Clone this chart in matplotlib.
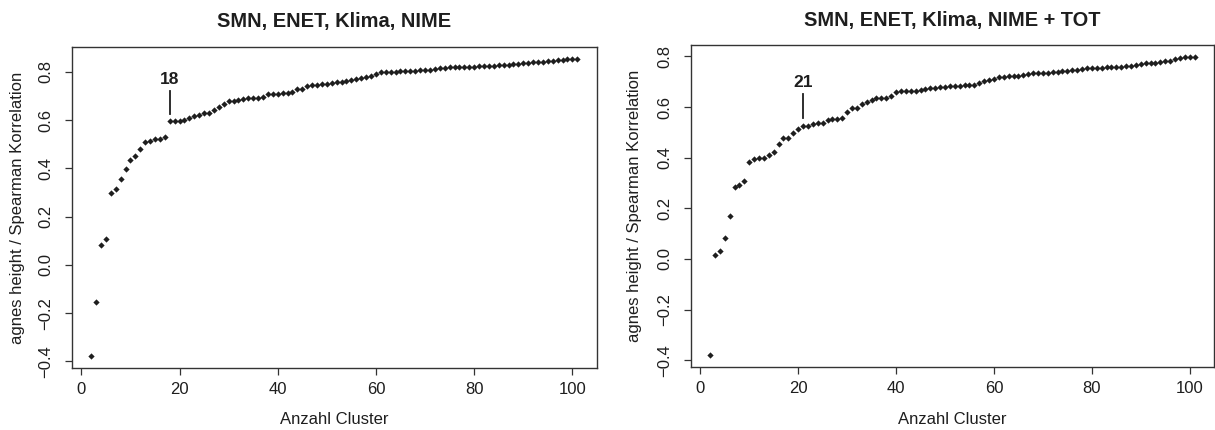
import matplotlib
matplotlib.use("Agg")
import matplotlib.pyplot as plt
import numpy as np

plt.rcParams['font.family'] = ['Liberation Sans', 'DejaVu Sans']

clusters = list(range(2, 102))

titles = ["SMN, ENET, Klima, NIME", "SMN, ENET, Klima, NIME + TOT"]
xlabel = "Anzahl Cluster"
ylabel = "agnes height / Spearman Korrelation"
highlight = [18, 21]

corr_left = [
    -0.379, -0.153, 0.083, 0.107, 0.299, 0.313, 0.357, 0.399, 0.434, 0.451,   # 2-11
    0.479, 0.509, 0.513, 0.523, 0.523, 0.531, 0.596, 0.597, 0.597, 0.600,     # 12-21
    0.608, 0.618, 0.621, 0.629, 0.628, 0.641, 0.656, 0.667, 0.680, 0.681,     # 22-31
    0.685, 0.686, 0.690, 0.690, 0.692, 0.696, 0.707, 0.709, 0.710, 0.711,     # 32-41
    0.712, 0.715, 0.728, 0.730, 0.743, 0.745, 0.746, 0.748, 0.750, 0.753,     # 42-51
    0.757, 0.759, 0.763, 0.768, 0.771, 0.774, 0.777, 0.785, 0.792, 0.799,     # 52-61
    0.800, 0.801, 0.801, 0.802, 0.803, 0.804, 0.805, 0.806, 0.807, 0.809,     # 62-71
    0.811, 0.817, 0.818, 0.819, 0.820, 0.821, 0.821, 0.822, 0.822, 0.823,     # 72-81
    0.824, 0.825, 0.826, 0.827, 0.828, 0.830, 0.832, 0.834, 0.836, 0.838,     # 82-91
    0.840, 0.842, 0.843, 0.845, 0.846, 0.848, 0.850, 0.852, 0.853, 0.855,     # 92-101
]

corr_right = [
    -0.381, 0.014, 0.031, 0.083, 0.168, 0.283, 0.291, 0.306, 0.385, 0.395,    # 2-11
    0.399, 0.400, 0.409, 0.421, 0.455, 0.478, 0.478, 0.497, 0.514, 0.526,     # 12-21
    0.526, 0.534, 0.536, 0.537, 0.550, 0.552, 0.552, 0.555, 0.579, 0.596,     # 22-31
    0.596, 0.613, 0.621, 0.629, 0.634, 0.635, 0.636, 0.643, 0.658, 0.662,     # 32-41
    0.663, 0.664, 0.665, 0.667, 0.670, 0.674, 0.675, 0.678, 0.680, 0.682,     # 42-51
    0.683, 0.684, 0.686, 0.687, 0.688, 0.695, 0.703, 0.707, 0.712, 0.717,     # 52-61
    0.720, 0.721, 0.722, 0.724, 0.726, 0.732, 0.733, 0.734, 0.734, 0.736,     # 62-71
    0.737, 0.738, 0.741, 0.743, 0.746, 0.747, 0.749, 0.753, 0.754, 0.755,     # 72-81
    0.755, 0.757, 0.758, 0.758, 0.759, 0.762, 0.763, 0.766, 0.772, 0.774,     # 82-91
    0.775, 0.776, 0.779, 0.782, 0.784, 0.789, 0.793, 0.797, 0.797, 0.797,     # 92-101
]

xticks = [0, 20, 40, 60, 80, 100]
yticks = [-0.4, -0.2, 0.0, 0.2, 0.4, 0.6, 0.8]
ytick_labels = ["\u22120.4", "\u22120.2", "0.0", "0.2", "0.4", "0.6", "0.8"]

W, H = 1215, 430
fig = plt.figure(figsize=(W / 100, H / 100), dpi=100)

# axes boxes in pixels: left, top, right, bottom
boxes = [(71.7, 46.7, 596.7, 368.3), (690.7, 45.3, 1214.0, 367.3)]
series = [corr_left, corr_right]
ink = "#1e1e1e"
frame = "#333333"

for i, (box, vals) in enumerate(zip(boxes, series)):
    l, t, r, b = box
    ax = fig.add_axes([l / W, 1 - b / H, (r - l) / W, (b - t) / H])
    ax.plot(clusters, vals, linestyle="none", marker="D", markersize=3.2,
            color=ink, markeredgewidth=0)
    x0, x1 = min(clusters), max(clusters)
    y0, y1 = min(vals), max(vals)
    dx, dy = (x1 - x0) * 0.04, (y1 - y0) * 0.04
    ax.set_xlim(x0 - dx, x1 + dx)
    ax.set_ylim(y0 - dy, y1 + dy)

    k = highlight[i]
    yk = vals[clusters.index(k)]
    ax.plot([k, k], [yk + 0.03, yk + 0.125], color=ink, linewidth=1.3)
    ax.text(k, yk + 0.172, str(k), ha="center", va="center",
            fontsize=12.5, fontweight="bold", color=ink)

    ax.set_xticks(xticks)
    ax.set_yticks(yticks)
    ax.set_yticklabels(ytick_labels, rotation=90, va="center")
    ax.tick_params(axis="both", direction="out", length=5, width=0.9,
                   color=frame, labelsize=12, labelcolor=ink)
    ax.tick_params(axis="x", pad=5)
    ax.tick_params(axis="y", pad=8)
    for s in ax.spines.values():
        s.set_color(frame)
        s.set_linewidth(1.0)

    ax.set_title(titles[i], fontsize=14.4, fontweight="bold", color=ink, pad=14)
    ax.set_xlabel(xlabel, fontsize=12, color=ink)
    ax.set_ylabel(ylabel, fontsize=12, color=ink)
    ah = b - t
    aw = r - l
    ax.xaxis.set_label_coords(0.5, -(420 - b) / ah)
    ax.xaxis.label.set_va("center")
    ylab_x = 18 if i == 0 else 635
    ax.yaxis.set_label_coords(-(l - ylab_x) / aw, 0.5)
    ax.yaxis.label.set_va("center")

fig.savefig("out.png", dpi=100)
